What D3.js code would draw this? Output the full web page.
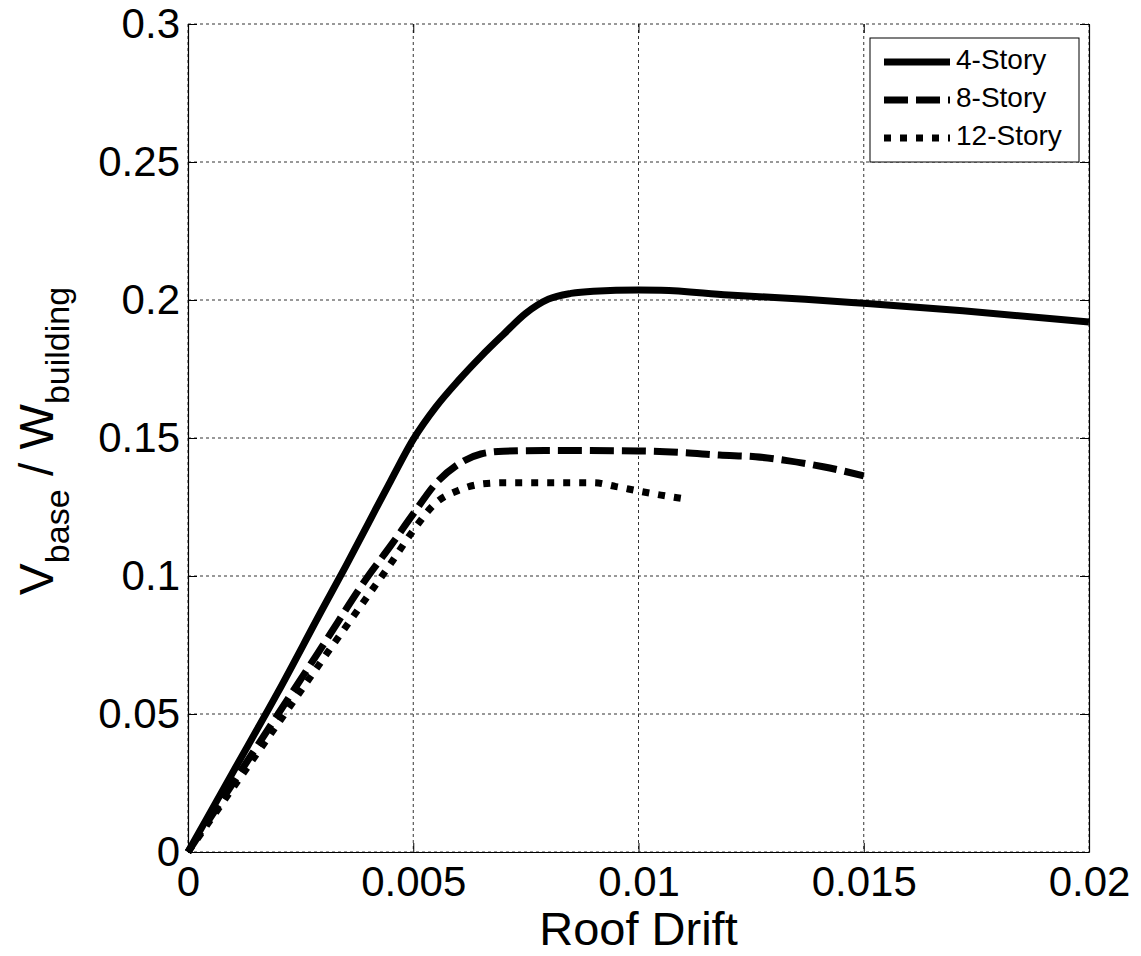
<!DOCTYPE html>
<html>
<head>
<meta charset="utf-8">
<script src="https://cdn.jsdelivr.net/npm/d3@7"></script>
<style>
body { margin: 0; background: #fff; }
text { font-family: "Liberation Sans", Arial, sans-serif; fill: #000; }
</style>
</head>
<body>
<script>
// pushover curves
var drift4 = [0, 0.001, 0.002, 0.003, 0.0035, 0.004, 0.0045, 0.005, 0.0055, 0.006, 0.0065, 0.007, 0.0075, 0.008, 0.0085, 0.009, 0.01, 0.0105, 0.012, 0.0137, 0.015, 0.0172, 0.02];
var shear4 = [0, 0.029, 0.058, 0.0885, 0.1035, 0.119, 0.1345, 0.1495, 0.1612, 0.1708, 0.1795, 0.1875, 0.1952, 0.2003, 0.2024, 0.2032, 0.2036, 0.2035, 0.2018, 0.2003, 0.1988, 0.1961, 0.1920];

var drift8 = [0, 0.001, 0.002, 0.003, 0.004, 0.0045, 0.005, 0.0055, 0.006, 0.0065, 0.007, 0.008, 0.01, 0.011, 0.0118, 0.0126, 0.0133, 0.0141, 0.015];
var shear8 = [0, 0.025, 0.050, 0.075, 0.100, 0.111, 0.1225, 0.1335, 0.1405, 0.1442, 0.1452, 0.1455, 0.1453, 0.1447, 0.1438, 0.1432, 0.1418, 0.1396, 0.1363];

var drift12 = [0, 0.001, 0.002, 0.003, 0.004, 0.0045, 0.005, 0.0055, 0.006, 0.0065, 0.007, 0.009, 0.0095, 0.01, 0.0105, 0.011];
var shear12 = [0, 0.0233, 0.0466, 0.070, 0.093, 0.1045, 0.1165, 0.1265, 0.1310, 0.1333, 0.1338, 0.1338, 0.1324, 0.1308, 0.1293, 0.1280];

var seriesNames = ["4-Story", "8-Story", "12-Story"];
var xTicks = [0, 0.005, 0.01, 0.015, 0.02];
var yTicks = [0, 0.05, 0.1, 0.15, 0.2, 0.25, 0.3];

var W = 1141, H = 956;
var margin = {left: 188, top: 24, right: 52, bottom: 104};
var pw = W - margin.left - margin.right;
var ph = H - margin.top - margin.bottom;

var svg = d3.select("body").append("svg")
  .attr("width", W)
  .attr("height", H);

svg.append("rect").attr("width", W).attr("height", H).attr("fill", "#fff");

var g = svg.append("g").attr("transform", "translate(" + margin.left + "," + margin.top + ")");

var x = d3.scaleLinear().domain([0, 0.02]).range([0, pw]);
var y = d3.scaleLinear().domain([0, 0.3]).range([ph, 0]);

// grid
g.selectAll(".gx").data(xTicks).enter().append("line")
  .attr("x1", d => x(d)).attr("x2", d => x(d))
  .attr("y1", 0).attr("y2", ph)
  .attr("stroke", "#333").attr("stroke-width", 1)
  .attr("stroke-dasharray", "3,3");
g.selectAll(".gy").data(yTicks).enter().append("line")
  .attr("x1", 0).attr("x2", pw)
  .attr("y1", d => y(d)).attr("y2", d => y(d))
  .attr("stroke", "#333").attr("stroke-width", 1)
  .attr("stroke-dasharray", "3,3");

// axes, ticks inward
var fmt = function(d) { return d === 0 ? "0" : String(+d.toFixed(3)); };

var xAxis = g.append("g").attr("transform", "translate(0," + ph + ")")
  .call(d3.axisBottom(x).tickValues(xTicks).tickFormat(fmt).tickSizeInner(-9).tickSizeOuter(0).tickPadding(14));
var yAxis = g.append("g")
  .call(d3.axisLeft(y).tickValues(yTicks).tickFormat(fmt).tickSizeInner(-9).tickSizeOuter(0).tickPadding(8));
var xTop = g.append("g")
  .call(d3.axisTop(x).tickValues(xTicks).tickFormat("").tickSizeInner(-9).tickSizeOuter(0));
var yRight = g.append("g").attr("transform", "translate(" + pw + ",0)")
  .call(d3.axisRight(y).tickValues(yTicks).tickFormat("").tickSizeInner(-9).tickSizeOuter(0));

[xAxis, yAxis, xTop, yRight].forEach(function(a) {
  a.selectAll("line").attr("stroke", "#000");
  a.selectAll("text").style("font-size", "42px").attr("fill", "#000");
});
xTop.select(".domain").remove();
[xAxis, yAxis, yRight].forEach(function(a) {
  a.select(".domain").attr("stroke", "#000").attr("stroke-width", 1.2);
});

// curves
var line = d3.line()
  .x(d => x(d[0]))
  .y(d => y(d[1]))
  .curve(d3.curveMonotoneX);

var dashes = [null, "24,8", "7,9"];
var curves = [d3.zip(drift4, shear4), d3.zip(drift8, shear8), d3.zip(drift12, shear12)];

curves.forEach(function(c, i) {
  g.append("path")
    .datum(c)
    .attr("d", line)
    .attr("fill", "none")
    .attr("stroke", "#000")
    .attr("stroke-width", 7)
    .attr("stroke-linecap", "butt")
    .attr("stroke-dasharray", dashes[i]);
});

// legend
var leg = svg.append("g").attr("transform", "translate(870,38)");
leg.append("rect")
  .attr("width", 209).attr("height", 124)
  .attr("fill", "#fff").attr("stroke", "#000").attr("stroke-width", 1);

seriesNames.forEach(function(name, i) {
  var ly = 24 + i * 38;
  leg.append("line")
    .attr("x1", 14).attr("x2", 80)
    .attr("y1", ly).attr("y2", ly)
    .attr("stroke", "#000").attr("stroke-width", 7)
    .attr("stroke-dasharray", dashes[i]);
  leg.append("text")
    .attr("x", 86).attr("y", ly + 7)
    .style("font-size", "28px")
    .text(name);
});

// axis titles
svg.append("text")
  .attr("x", margin.left + pw / 2)
  .attr("y", 945)
  .attr("text-anchor", "middle")
  .style("font-size", "47px")
  .text("Roof Drift");

var yt = svg.append("text")
  .attr("transform", "translate(53," + (margin.top + ph / 2 + 3) + ") rotate(-90)")
  .attr("text-anchor", "middle")
  .style("font-size", "48px");
yt.append("tspan").text("V");
yt.append("tspan").attr("dy", 16).style("font-size", "34px").text("base");
yt.append("tspan").attr("dy", -16).text(" / W");
yt.append("tspan").attr("dy", 16).style("font-size", "34px").text("building");
</script>
</body>
</html>
